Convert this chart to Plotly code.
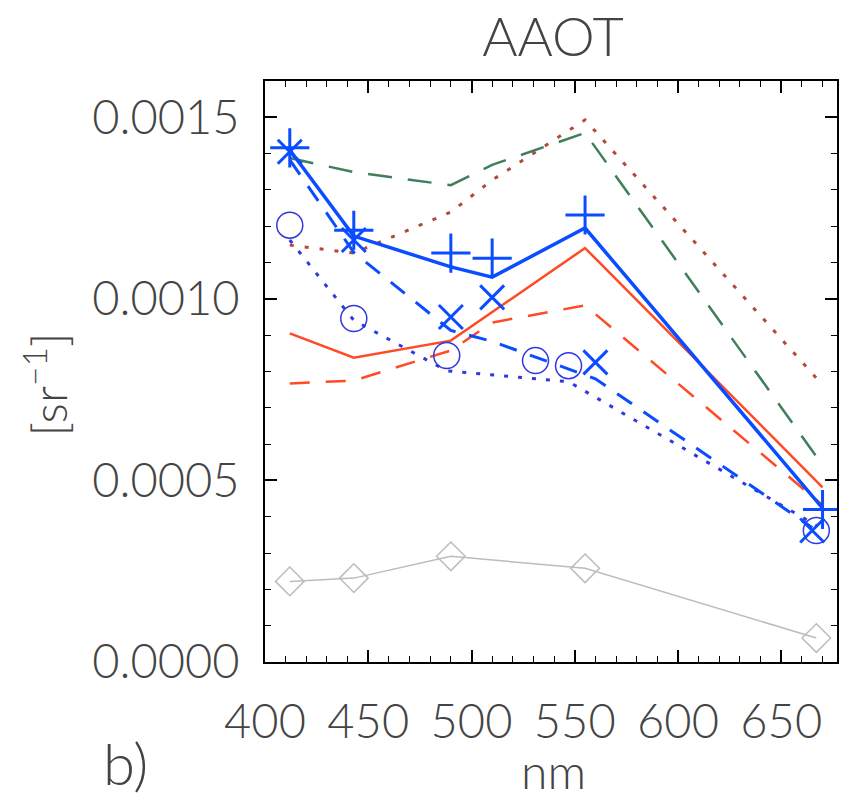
import plotly.graph_objects as go

# Wavelength sets (nm)
wl_seawifs = [412, 443, 490, 510, 555, 670]
wl_meris = [412, 443, 490, 510, 560, 665]
wl_modis = [412, 443, 488, 531, 547, 667]
wl_gray = [412, 443, 490, 555, 667]

# Series values [sr^-1]
blue_solid = [0.001410, 0.001173, 0.001088, 0.001060, 0.001195, 0.000424]
blue_plus = [0.001416, 0.001189, 0.001126, 0.001112, 0.001231, 0.000420]
blue_x = [0.001405, 0.001162, 0.000950, 0.001004, 0.000825, 0.000362]
blue_dash = [0.001383, 0.001128, 0.000913, 0.000883, 0.000780, 0.000370]
blue_circle = [0.001203, 0.000946, 0.000844, 0.000830, 0.000816, 0.000362]
blue_dot = [0.001162, 0.000941, 0.000802, 0.000780, 0.000772, 0.000376]
red_solid = [0.000905, 0.000838, 0.000885, 0.000963, 0.001140, 0.000481]
red_dash = [0.000767, 0.000775, 0.000858, 0.000935, 0.000982, 0.000432]
green_dash = [0.001388, 0.001349, 0.001313, 0.001369, 0.001457, 0.000542]
red_dot = [0.001148, 0.001126, 0.001239, 0.001327, 0.001493, 0.000763]
gray_diamond = [0.000222, 0.000231, 0.000291, 0.000258, 0.000066]

y_tickvals = [0.0, 0.0005, 0.0010, 0.0015]
x_tickvals = [400, 450, 500, 550, 600, 650]

BLUE = "#0a4cff"
BLUE2 = "#3038e0"
RED = "#ff4a24"
GREEN = "#3f7f5a"
REDDOT = "#b4483c"
GRAY = "#bcbcbc"
FONT = "Lato"
TXT = "#444444"


def tfont(size):
    return dict(family=FONT, size=size, color=TXT, weight=300)


fig = go.Figure()

fig.add_trace(go.Scatter(x=wl_gray, y=gray_diamond, mode="lines+markers",
                         line=dict(color=GRAY, width=1.5),
                         marker=dict(symbol="diamond-open", size=22, color=GRAY,
                                     line=dict(color=GRAY, width=1.5))))
fig.add_trace(go.Scatter(x=wl_seawifs, y=red_dot, mode="lines",
                         line=dict(color=REDDOT, width=3, dash="4px,11px")))
fig.add_trace(go.Scatter(x=wl_seawifs, y=green_dash, mode="lines",
                         line=dict(color=GREEN, width=2.5, dash="24px,16px")))
fig.add_trace(go.Scatter(x=wl_seawifs, y=red_dash, mode="lines",
                         line=dict(color=RED, width=2.5, dash="20px,16px")))
fig.add_trace(go.Scatter(x=wl_seawifs, y=red_solid, mode="lines",
                         line=dict(color=RED, width=2.5)))
fig.add_trace(go.Scatter(x=wl_modis, y=blue_dot, mode="lines",
                         line=dict(color=BLUE2, width=3, dash="4px,10px")))
fig.add_trace(go.Scatter(x=wl_modis, y=blue_circle, mode="markers",
                         marker=dict(symbol="circle-open", size=26, color=BLUE2,
                                     line=dict(color=BLUE2, width=1.5))))
fig.add_trace(go.Scatter(x=wl_meris, y=blue_dash, mode="lines",
                         line=dict(color=BLUE, width=3, dash="18px,14px")))
fig.add_trace(go.Scatter(x=wl_meris, y=blue_x, mode="markers",
                         marker=dict(symbol="x-thin-open", size=24, color=BLUE,
                                     line=dict(color=BLUE, width=3))))
fig.add_trace(go.Scatter(x=wl_seawifs, y=blue_solid, mode="lines",
                         line=dict(color=BLUE, width=3.5)))
fig.add_trace(go.Scatter(x=wl_seawifs, y=blue_plus, mode="markers",
                         marker=dict(symbol="cross-thin-open", size=28, color=BLUE,
                                     line=dict(color=BLUE, width=3))))

axis_common = dict(
    showline=True, linecolor="black", linewidth=2, mirror="ticks",
    ticks="inside", ticklen=12, tickwidth=1.5, tickcolor="black",
    showgrid=False, zeroline=False,
    tickfont=tfont(47),
)

fig.update_xaxes(range=[400, 677], tickvals=x_tickvals,
                 minor=dict(dtick=10, tick0=400, ticks="inside", ticklen=6,
                            tickwidth=1.2, tickcolor="black"),
                 ticklabelstandoff=18, **axis_common)
fig.update_yaxes(range=[0, 0.0016], tickvals=y_tickvals, tickformat=".4f",
                 minor=dict(dtick=0.0001, tick0=0, ticks="inside", ticklen=6,
                            tickwidth=1.2, tickcolor="black"),
                 ticklabelstandoff=14, **axis_common)

fig.update_layout(
    width=852, height=800,
    margin=dict(l=265, r=15, t=81, b=138),
    paper_bgcolor="white", plot_bgcolor="white",
    showlegend=False,
    title=dict(text="AAOT", x=553 / 852, xanchor="center",
               y=1 - 37 / 800, yanchor="middle",
               font=tfont(54)),
    annotations=[
        dict(text="nm", xref="paper", yref="paper", x=(553 - 265) / 572,
             y=(661.7 - 770) / 580.7, xanchor="center", yanchor="middle",
             showarrow=False, font=tfont(48)),
        dict(text="b)", xref="paper", yref="paper", x=(125 - 265) / 572,
             y=(661.7 - 762) / 580.7, xanchor="center", yanchor="middle",
             showarrow=False, font=tfont(58)),
        dict(text="[sr<sup>−1</sup>]", xref="paper", yref="paper",
             x=(45 - 265) / 572, y=(661.7 - 385) / 580.7, textangle=-90,
             xanchor="center", yanchor="middle",
             showarrow=False, font=tfont(48)),
    ],
)

fig.write_html("out.html")
